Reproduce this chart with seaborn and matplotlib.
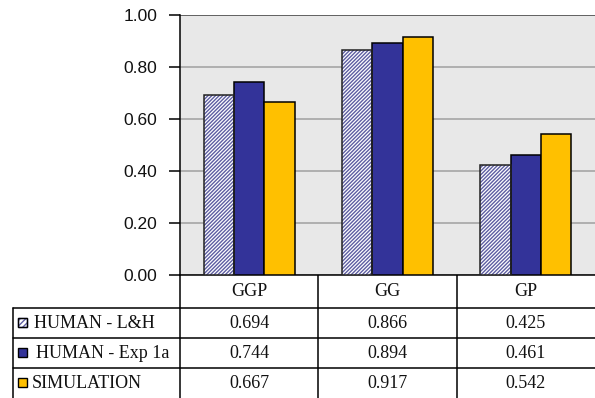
import numpy as np
import pandas as pd
import matplotlib
matplotlib.use("Agg")
import matplotlib.pyplot as plt
from matplotlib.patches import Rectangle
import seaborn as sns

categories = ["GGP", "GG", "GP"]
series = ["HUMAN - L&H", "HUMAN - Exp 1a", "SIMULATION"]
human_lh = [0.694, 0.866, 0.425]
human_exp1a = [0.744, 0.894, 0.461]
simulation = [0.667, 0.917, 0.542]
yticks = [0.0, 0.2, 0.4, 0.6, 0.8, 1.0]

values = [human_lh, human_exp1a, simulation]
df = pd.DataFrame(
    [(c, s, v[i]) for s, v in zip(series, values) for i, c in enumerate(categories)],
    columns=["condition", "source", "value"],
)

sns.set_theme(style="white")
plt.rcParams["hatch.linewidth"] = 1.0

W, H = 595, 398
fig = plt.figure(figsize=(W / 100, H / 100), dpi=100)

# plot area in pixel layout
ax_l, ax_r, ax_t, ax_b = 180, 595, 15, 275
ax = fig.add_axes([ax_l / W, 1 - ax_b / H, (ax_r - ax_l) / W, (ax_b - ax_t) / H])
ax.set_facecolor("#e8e8e8")

fill_cols = ["white", "#333399", "#ffc000"]
hatch_col = "#5e5ea2"
sns.barplot(data=df, x="condition", y="value", hue="source", hue_order=series,
            order=categories, palette=fill_cols, saturation=1, width=0.66,
            edgecolor="black", linewidth=1.1, legend=False, ax=ax, zorder=3)

# hatched first series: hatch drawn in blue-grey, outline on top in black
for p in ax.containers[0]:
    p.set_hatch("/" * 9)
    p.set_edgecolor(hatch_col)
    p.set_linewidth(0)
    ax.add_patch(Rectangle((p.get_x(), p.get_y()), p.get_width(), p.get_height(),
                           fill=False, edgecolor="#222222", linewidth=1.1, zorder=4))

ax.set_xlim(-0.5, len(categories) - 0.5)
ax.set_ylim(0, 1.0)
ax.set_yticks(yticks)
ax.set_yticklabels([f"{t:.2f}" for t in yticks], fontfamily="Liberation Sans",
                   fontsize=12.5, color="#111111")
ax.set_xticks([])
ax.set_xlabel("")
ax.set_ylabel("")
ax.yaxis.grid(True, color="#a0a0a0", linewidth=1.1, zorder=0)
ax.set_axisbelow(True)
ax.tick_params(axis="y", left=True, length=8, width=1.1, color="black", pad=8.5)
for side in ["right", "top"]:
    ax.spines[side].set_visible(False)
ax.spines["left"].set_color("black")
ax.spines["left"].set_linewidth(1.1)
ax.spines["bottom"].set_color("black")
ax.spines["bottom"].set_linewidth(1.1)
ax.axhline(1.0, color="#555555", linewidth=1.2, zorder=1)

# data table beneath the plot, drawn in figure pixel space
tab = fig.add_axes([0, 0, 1, 1], zorder=-1)
tab.set_xlim(0, W)
tab.set_ylim(H, 0)
tab.axis("off")

gw = (ax_r - ax_l) / len(categories)
col_edges = [ax_l + i * gw for i in range(len(categories) + 1)]
row_lines = [308, 338, 368]
row_centers = [291, 323, 353, 383]
lc = "black"
lw = 1.1
for x in col_edges[:-1]:
    tab.plot([x, x], [ax_b, H], color=lc, linewidth=lw)
tab.plot([13, 13], [row_lines[0], H], color=lc, linewidth=lw)
for y in row_lines:
    tab.plot([13, W], [y, y], color=lc, linewidth=lw)

serif = "Liberation Serif"
for i, c in enumerate(categories):
    cx = (col_edges[i] + col_edges[i + 1]) / 2
    tab.text(cx, row_centers[0], c, ha="center", va="center", fontfamily=serif,
             fontsize=13, color="#111111")
    for r, v in enumerate(values):
        tab.text(cx, row_centers[r + 1], f"{v[i]:.3f}", ha="center", va="center",
                 fontfamily=serif, fontsize=13, color="#111111")

label_x = [34, 36, 32]
for r, (name, fc) in enumerate(zip(series, fill_cols)):
    yc = row_centers[r + 1]
    key = Rectangle((18, yc - 5), 9, 9, facecolor=fc, edgecolor="black", linewidth=1.0)
    if r == 0:
        key.set_hatch("//////")
        key.set_edgecolor(hatch_col)
        tab.add_patch(key)
        tab.add_patch(Rectangle((18, yc - 5), 9, 9, fill=False, edgecolor="black", linewidth=1.0))
    else:
        tab.add_patch(key)
    tab.text(label_x[r], yc, name, ha="left", va="center", fontfamily=serif,
             fontsize=13, color="#111111")

fig.savefig("out.png", dpi=100, facecolor="white")
